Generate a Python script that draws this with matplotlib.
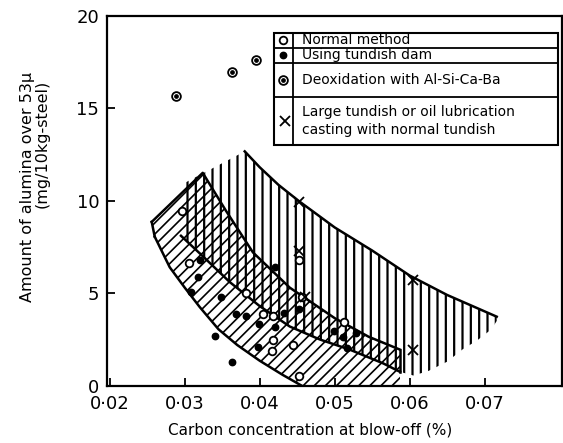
import numpy as np
import matplotlib
matplotlib.use("Agg")
import matplotlib.pyplot as plt
from matplotlib.patches import Rectangle
from matplotlib.lines import Line2D

plt.rcParams["font.family"] = "DejaVu Sans"
plt.rcParams["hatch.linewidth"] = 1.6

# --- scatter data: carbon at blow-off (%) vs alumina over 53 micron (mg/10kg-steel)
normal_x = [0.0297, 0.0306, 0.0382, 0.0405, 0.0418, 0.0418, 0.0416, 0.0444,
            0.0452, 0.0452, 0.0457, 0.0513]
normal_y = [9.45, 6.65, 5.0, 3.9, 3.75, 2.45, 1.9, 2.2, 0.55, 6.8, 4.8, 3.45]

dam_x = [0.0321, 0.0318, 0.0309, 0.0349, 0.0369, 0.0382, 0.0399, 0.0420, 0.0398,
         0.0341, 0.0363, 0.0421, 0.0433, 0.0453, 0.0499, 0.0511, 0.0529, 0.0516]
dam_y = [6.8, 5.9, 5.05, 4.8, 3.9, 3.75, 3.35, 3.15, 2.1,
         2.7, 1.3, 6.4, 3.95, 4.15, 2.95, 2.65, 2.85, 2.05]

deox_x = [0.0289, 0.0363, 0.0395]
deox_y = [15.65, 16.95, 17.6]

large_x = [0.0453, 0.0453, 0.0460, 0.0604, 0.0604]
large_y = [9.95, 7.3, 4.8, 5.7, 1.95]

# --- band A (diagonal hatch): upper and lower edges
band_a_top_x = [0.0256, 0.0324, 0.0355, 0.0391, 0.0440, 0.0500, 0.0545, 0.0587]
band_a_top_y = [8.85, 11.5, 9.45, 7.2, 5.3, 3.65, 2.65, 1.95]
band_a_bot_x = [0.0260, 0.0280, 0.0300, 0.0320, 0.0345, 0.0370, 0.0400, 0.0430,
                0.0456, 0.0500, 0.0587]
band_a_bot_y = [8.05, 6.4, 5.3, 4.25, 3.05, 2.2, 1.35, 0.6, 0.0, -0.9, -2.3]

# --- band C (vertical hatch): upper and lower edges
band_c_top_x = [0.0295, 0.0380, 0.0400, 0.0425, 0.0453, 0.0500, 0.0550, 0.0600,
                0.0650, 0.0716]
band_c_top_y = [10.85, 12.66, 11.8, 10.85, 9.95, 8.55, 7.3, 5.95, 4.9, 3.73]
band_c_bot_x = [0.0295, 0.0324, 0.0360, 0.0400, 0.0440, 0.0480, 0.0520, 0.0565,
                0.0587, 0.0605, 0.0625, 0.0650, 0.0670, 0.0690, 0.0709, 0.0716]
band_c_bot_y = [8.1, 7.0, 5.6, 4.3, 3.2, 2.5, 1.95, 1.2,
                0.75, 0.55, 0.8, 1.3, 1.95, 2.45, 3.05, 3.5]

x_ticks = [0.02, 0.03, 0.04, 0.05, 0.06, 0.07]
x_ticklabels = ["0·02", "0·03", "0·04", "0·05", "0·06", "0·07"]
y_ticks = [0, 5, 10, 15, 20]

legend_rows = ["Normal method", "Using tundish dam", "Deoxidation with Al-Si-Ca-Ba",
               "Large tundish or oil lubrication\ncasting with normal tundish"]

fig = plt.figure(figsize=(5.63, 4.43), dpi=100)
ax = fig.add_axes([0.1909, 0.1293, 0.8073, 0.8357])

# hatched bands
band_a = ax.fill(band_a_top_x + band_a_bot_x[::-1], band_a_top_y + band_a_bot_y[::-1],
                 facecolor="none", edgecolor="black", linewidth=0, hatch="///", zorder=1)[0]
band_c = ax.fill(band_c_top_x + band_c_bot_x[::-1], band_c_top_y + band_c_bot_y[::-1],
                 facecolor="none", edgecolor="black", linewidth=0, hatch="||", zorder=1)[0]
if hasattr(band_a, "set_hatch_linewidth"):
    band_a.set_hatch_linewidth(1.2)
    band_c.set_hatch_linewidth(1.6)

# band outlines
lw = 1.8
ax.plot(band_a_top_x, band_a_top_y, color="black", lw=lw, zorder=2)
ax.plot(band_a_bot_x, band_a_bot_y, color="black", lw=lw, zorder=2)
ax.plot([band_a_top_x[0], band_a_bot_x[0]], [band_a_top_y[0], band_a_bot_y[0]],
        color="black", lw=lw, zorder=2)
ax.plot([band_a_top_x[-1], band_c_bot_x[8]], [band_a_top_y[-1], band_c_bot_y[8]],
        color="black", lw=lw, zorder=2)
ax.plot(band_c_top_x[1:], band_c_top_y[1:], color="black", lw=lw, zorder=2)
ax.plot(band_c_bot_x[:9], band_c_bot_y[:9], color="black", lw=lw, zorder=2)

# points
ax.plot(normal_x, normal_y, "o", ms=5.5, mfc="white", mec="black", mew=1.3, zorder=4)
ax.plot(dam_x, dam_y, "o", ms=4.6, mfc="black", mec="black", zorder=4)
ax.plot(deox_x, deox_y, "o", ms=6.3, mfc="white", mec="black", mew=1.3, zorder=4)
ax.plot(deox_x, deox_y, "o", ms=2.4, mfc="black", mec="black", zorder=5)
ax.plot(large_x, large_y, "x", ms=6.5, mec="black", mew=1.3, zorder=4)

ax.set_xlim(0.0197, 0.0803)
ax.set_ylim(0, 20)
ax.set_xticks(x_ticks)
ax.set_xticklabels(x_ticklabels)
ax.set_yticks(y_ticks)
ax.tick_params(direction="in", length=6, width=1.3, labelsize=13, pad=6)
ax.tick_params(axis="x", pad=7)
for s in ax.spines.values():
    s.set_linewidth(1.6)

# legend table
tr = ax.transAxes
bx0, bx1, by0, by1 = 0.366, 0.991, 0.650, 0.953
col = 0.408
row_lines = [0.913, 0.871, 0.780]
ax.add_patch(Rectangle((bx0, by0), bx1 - bx0, by1 - by0, transform=tr,
                       facecolor="white", edgecolor="black", lw=1.5, zorder=6))
for ry in row_lines:
    ax.add_line(Line2D([bx0, bx1], [ry, ry], transform=tr, color="black", lw=1.3, zorder=7))
ax.add_line(Line2D([col, col], [by0, by1], transform=tr, color="black", lw=1.3, zorder=7))

row_mid = [0.933, 0.892, 0.826, 0.715]
sx = (bx0 + col) / 2
ax.plot(sx, row_mid[0], "o", ms=5.5, mfc="white", mec="black", mew=1.3, transform=tr, zorder=8)
ax.plot(sx, row_mid[1], "o", ms=4.6, mfc="black", mec="black", transform=tr, zorder=8)
ax.plot(sx, row_mid[2], "o", ms=6.3, mfc="white", mec="black", mew=1.3, transform=tr, zorder=8)
ax.plot(sx, row_mid[2], "o", ms=2.4, mfc="black", mec="black", transform=tr, zorder=9)
ax.plot(sx + 0.004, row_mid[3], "x", ms=6.5, mec="black", mew=1.3, transform=tr, zorder=8)

for label, ym in zip(legend_rows, row_mid):
    ax.text(0.427, ym, label, transform=tr, fontsize=10, va="center", ha="left",
            linespacing=1.3, zorder=8)

# axis titles
fig.text(0.5517, 0.03, "Carbon concentration at blow-off (%)", fontsize=11,
         ha="center", va="center")
fig.text(0.0497, 0.5786, "Amount of alumina over 53μ", fontsize=11.5,
         rotation=90, ha="center", va="center")
fig.text(0.0746, 0.675, "(mg/10kg-steel)", fontsize=11.5,
         rotation=90, ha="center", va="center")

fig.savefig("out.png", dpi=100)
